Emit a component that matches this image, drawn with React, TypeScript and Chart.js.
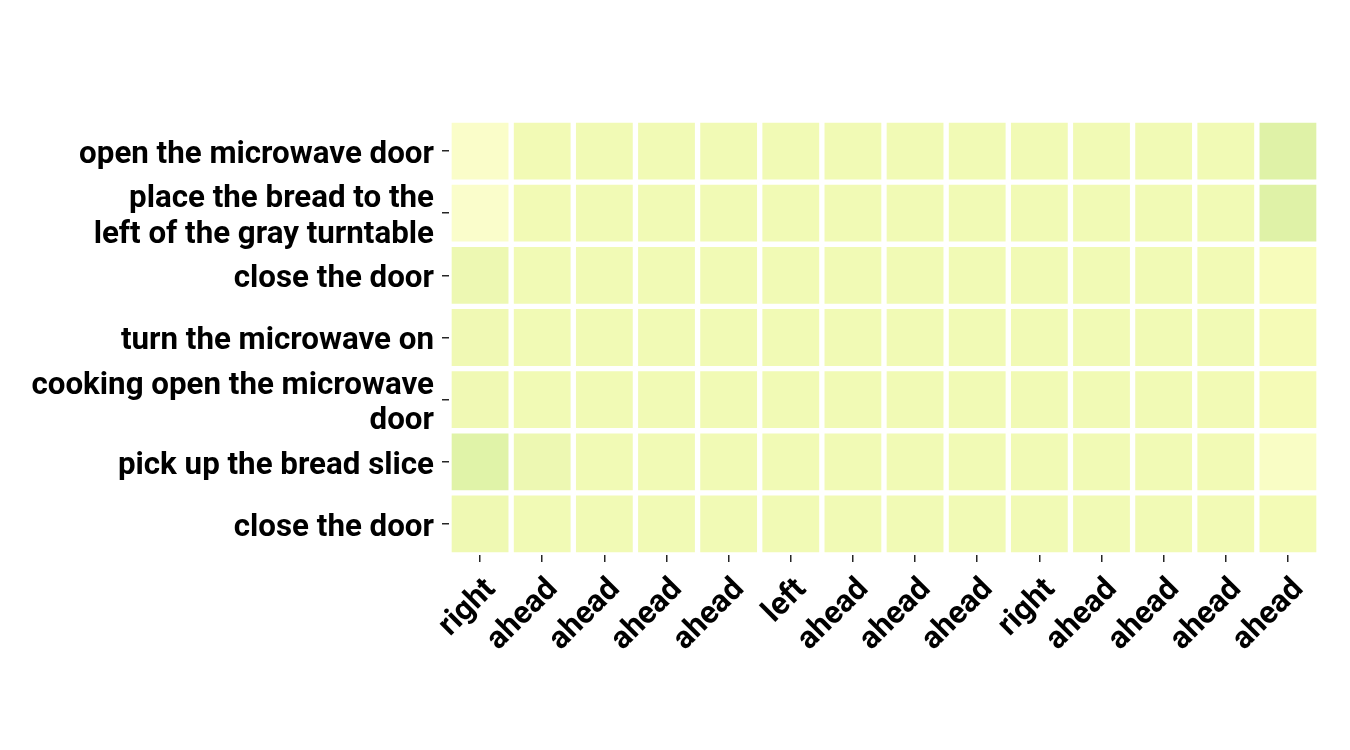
import { useEffect, useRef } from "react";
import { Chart, registerables } from "chart.js";
Chart.register(...registerables);

const xLabels = ["right", "ahead", "ahead", "ahead", "ahead", "left", "ahead", "ahead", "ahead", "right", "ahead", "ahead", "ahead", "ahead"];
const yLabels: string[][] = [
  ["open the microwave door"],
  ["place the bread to the", "left of the gray turntable"],
  ["close the door"],
  ["turn the microwave on"],
  ["cooking open the microwave", "door"],
  ["pick up the bread slice"],
  ["close the door"],
];

const row0 = [0.08, 0.145, 0.15, 0.15, 0.15, 0.15, 0.15, 0.15, 0.15, 0.15, 0.15, 0.15, 0.15, 0.225];
const row1 = [0.075, 0.145, 0.15, 0.15, 0.15, 0.15, 0.15, 0.15, 0.15, 0.15, 0.15, 0.15, 0.15, 0.225];
const row2 = [0.165, 0.15, 0.15, 0.15, 0.15, 0.15, 0.15, 0.15, 0.15, 0.15, 0.15, 0.15, 0.145, 0.12];
const row3 = [0.155, 0.15, 0.15, 0.15, 0.15, 0.15, 0.15, 0.15, 0.15, 0.15, 0.15, 0.15, 0.15, 0.135];
const row4 = [0.155, 0.15, 0.15, 0.15, 0.15, 0.15, 0.15, 0.15, 0.15, 0.15, 0.15, 0.15, 0.145, 0.135];
const row5 = [0.22, 0.165, 0.15, 0.15, 0.15, 0.15, 0.15, 0.15, 0.15, 0.15, 0.15, 0.15, 0.145, 0.09];
const row6 = [0.16, 0.15, 0.15, 0.15, 0.15, 0.15, 0.15, 0.15, 0.15, 0.15, 0.15, 0.15, 0.145, 0.14];
const rows = [row0, row1, row2, row3, row4, row5, row6];

const ylgn = ["#ffffe5", "#f7fcb9", "#d9f0a3", "#addd8e", "#78c679", "#41ab5d", "#238443", "#006837", "#004529"];

function hexToRgb(h: string) {
  const n = parseInt(h.slice(1), 16);
  return [(n >> 16) & 255, (n >> 8) & 255, n & 255];
}

function colorFor(v: number) {
  const t = Math.max(0, Math.min(1, v)) * (ylgn.length - 1);
  const i = Math.min(ylgn.length - 2, Math.floor(t));
  const f = t - i;
  const a = hexToRgb(ylgn[i]);
  const b = hexToRgb(ylgn[i + 1]);
  const c = a.map((x, k) => Math.round(x + (b[k] - x) * f));
  return `rgb(${c[0]},${c[1]},${c[2]})`;
}

export default function App() {
  const ref = useRef<HTMLCanvasElement | null>(null);
  useEffect(() => {
    if (!ref.current) return;
    const font = { family: "Roboto", weight: "bold" as const, size: 31.3, lineHeight: 1.14 };
    const datasets = rows.map((row, r) => ({
      label: `row${r}`,
      data: xLabels.map(() => [r, r + 1]),
      backgroundColor: row.map(colorFor),
      borderColor: "#ffffff",
      borderWidth: 3,
      borderSkipped: false,
      barPercentage: 1,
      categoryPercentage: 1,
      grouped: false,
    }));
    const chart = new Chart(ref.current, {
      type: "bar",
      data: { labels: xLabels, datasets: datasets as any },
      options: {
        animation: false,
        responsive: false,
        maintainAspectRatio: false,
        layout: { padding: { top: 120, right: 31, left: 0, bottom: 0 } },
        plugins: { legend: { display: false }, tooltip: { enabled: false } },
        scales: {
          x: {
            type: "category",
            offset: true,
            border: { display: false },
            grid: { offset: false, drawOnChartArea: false, drawTicks: true, tickLength: 7, color: "#262626", lineWidth: 1.5 },
            ticks: { maxRotation: 45, minRotation: 45, padding: 10, labelOffset: 11, color: "#000", font, autoSkip: false },
            afterFit: (s: any) => { s.height = 195; },
          },
          y: {
            type: "linear",
            min: 0,
            max: 7,
            reverse: true,
            border: { display: false },
            grid: { drawOnChartArea: false, drawTicks: true, tickLength: 7, color: "#262626", lineWidth: 1.5 },
            afterBuildTicks: (s: any) => {
              s.ticks = yLabels.map((_, i) => ({ value: i + 0.5 }));
            },
            ticks: {
              padding: 8,
              labelOffset: 4,
              color: "#000",
              font,
              autoSkip: false,
              callback: (_v: any, i: number) => yLabels[i],
            },
            afterFit: (s: any) => { s.width = 449; },
          },
        },
      },
    });
    return () => chart.destroy();
  }, []);
  return (
    <div style={{ position: "absolute", left: 0, top: 0, width: 1350, height: 750 }}>
      <canvas ref={ref} width={1350} height={750} style={{ width: 1350, height: 750 }} />
    </div>
  );
}
